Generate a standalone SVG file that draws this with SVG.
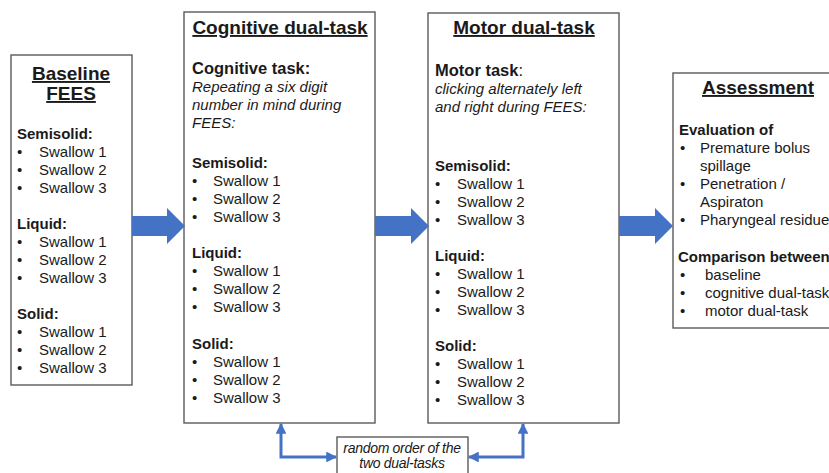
<svg xmlns="http://www.w3.org/2000/svg" width="829" height="473" viewBox="0 0 829 473">
<defs>
<style>
text{font-family:"Liberation Sans",Arial,sans-serif;fill:#1a1a1a}
.box{fill:#fff;stroke:#5a5a5a;stroke-width:1.4}
.title{font-size:19px;font-weight:bold;text-decoration:underline;text-anchor:middle}
.h{font-size:15px;font-weight:bold}
.h2{font-size:16.5px;font-weight:bold}
.t{font-size:15px}
.i{font-size:15px;font-style:italic}
.note{font-size:14px;font-style:italic;text-anchor:middle;letter-spacing:-0.3px}
.big{fill:#4472c4}
.con{fill:none;stroke:#4472c4;stroke-width:3}
</style>
<marker id="ah" viewBox="0 0 10 10" refX="9" refY="5" markerWidth="3.6" markerHeight="3.6" orient="auto-start-reverse" markerUnits="strokeWidth">
<path d="M0,0 L10,5 L0,10 z" fill="#4472c4"/>
</marker>
</defs>
<rect width="829" height="473" fill="#fff"/>

<g id="baseline">
<rect class="box" x="11" y="55" width="121" height="330"/>
<text class="title" x="71" y="80">Baseline</text>
<text class="title" x="71" y="100">FEES</text>
<text class="h" x="17" y="139">Semisolid:</text>
<text class="t" x="17" y="157">•</text><text class="t" x="39" y="157">Swallow 1</text>
<text class="t" x="17" y="175">•</text><text class="t" x="39" y="175">Swallow 2</text>
<text class="t" x="17" y="193">•</text><text class="t" x="39" y="193">Swallow 3</text>
<text class="h" x="17" y="229">Liquid:</text>
<text class="t" x="17" y="247">•</text><text class="t" x="39" y="247">Swallow 1</text>
<text class="t" x="17" y="265">•</text><text class="t" x="39" y="265">Swallow 2</text>
<text class="t" x="17" y="283">•</text><text class="t" x="39" y="283">Swallow 3</text>
<text class="h" x="17" y="319">Solid:</text>
<text class="t" x="17" y="337">•</text><text class="t" x="39" y="337">Swallow 1</text>
<text class="t" x="17" y="355">•</text><text class="t" x="39" y="355">Swallow 2</text>
<text class="t" x="17" y="373">•</text><text class="t" x="39" y="373">Swallow 3</text>
</g>

<g id="cognitive">
<rect class="box" x="184" y="12" width="191" height="411"/>
<text class="title" x="280" y="34">Cognitive dual-task</text>
<text class="h2" x="192" y="74">Cognitive task:</text>
<text class="i" x="192" y="92">Repeating a six digit</text>
<text class="i" x="192" y="110">number in mind during</text>
<text class="i" x="192" y="128">FEES:</text>
<text class="h" x="192" y="168">Semisolid:</text>
<text class="t" x="192" y="186">•</text><text class="t" x="213" y="186">Swallow 1</text>
<text class="t" x="192" y="204">•</text><text class="t" x="213" y="204">Swallow 2</text>
<text class="t" x="192" y="222">•</text><text class="t" x="213" y="222">Swallow 3</text>
<text class="h" x="192" y="258">Liquid:</text>
<text class="t" x="192" y="276">•</text><text class="t" x="213" y="276">Swallow 1</text>
<text class="t" x="192" y="294">•</text><text class="t" x="213" y="294">Swallow 2</text>
<text class="t" x="192" y="312">•</text><text class="t" x="213" y="312">Swallow 3</text>
<text class="h" x="192" y="349">Solid:</text>
<text class="t" x="192" y="367">•</text><text class="t" x="213" y="367">Swallow 1</text>
<text class="t" x="192" y="385">•</text><text class="t" x="213" y="385">Swallow 2</text>
<text class="t" x="192" y="403">•</text><text class="t" x="213" y="403">Swallow 3</text>
</g>

<g id="motor">
<rect class="box" x="428" y="13" width="191" height="410"/>
<text class="title" x="524" y="34">Motor dual-task</text>
<text class="h2" x="435" y="76">Motor task<tspan font-weight="normal">:</tspan></text>
<text class="i" x="435" y="94">clicking alternately left</text>
<text class="i" x="435" y="112">and right during FEES:</text>
<text class="h" x="435" y="171">Semisolid:</text>
<text class="t" x="435" y="189">•</text><text class="t" x="457" y="189">Swallow 1</text>
<text class="t" x="435" y="207">•</text><text class="t" x="457" y="207">Swallow 2</text>
<text class="t" x="435" y="225">•</text><text class="t" x="457" y="225">Swallow 3</text>
<text class="h" x="435" y="261">Liquid:</text>
<text class="t" x="435" y="279">•</text><text class="t" x="457" y="279">Swallow 1</text>
<text class="t" x="435" y="297">•</text><text class="t" x="457" y="297">Swallow 2</text>
<text class="t" x="435" y="315">•</text><text class="t" x="457" y="315">Swallow 3</text>
<text class="h" x="435" y="351">Solid:</text>
<text class="t" x="435" y="369">•</text><text class="t" x="457" y="369">Swallow 1</text>
<text class="t" x="435" y="387">•</text><text class="t" x="457" y="387">Swallow 2</text>
<text class="t" x="435" y="405">•</text><text class="t" x="457" y="405">Swallow 3</text>
</g>

<g id="assessment">
<rect class="box" x="673" y="73" width="170" height="255"/>
<text class="title" x="758" y="94">Assessment</text>
<text class="h" x="679" y="135">Evaluation of</text>
<text class="t" x="680" y="153">•</text><text class="t" x="700" y="153">Premature bolus</text>
<text class="t" x="700" y="171">spillage</text>
<text class="t" x="680" y="189">•</text><text class="t" x="700" y="189">Penetration /</text>
<text class="t" x="700" y="207">Aspiraton</text>
<text class="t" x="680" y="225">•</text><text class="t" x="700" y="225" font-size="14.5">Pharyngeal residue</text>
<text class="h" x="678" y="262" font-size="14.1">Comparison between</text>
<text class="t" x="680" y="280">•</text><text class="t" x="705" y="280">baseline</text>
<text class="t" x="680" y="298">•</text><text class="t" x="705" y="298">cognitive dual-task</text>
<text class="t" x="680" y="316">•</text><text class="t" x="705" y="316">motor dual-task</text>
</g>

<g id="order-note">
<rect class="box" x="337" y="437" width="131" height="40"/>
<text class="note" x="402" y="453">random order of the</text>
<text class="note" x="402" y="468">two dual-tasks</text>
</g>

<g id="connectors">
<path class="big" d="M132,216 H167 V208 L185,226 L167,244 V236 H132 Z"/>
<path class="big" d="M375,216 H411 V208 L429,226 L411,244 V236 H375 Z"/>
<path class="big" d="M619,216 H655 V208 L673,226 L655,244 V236 H619 Z"/>
<path class="con" d="M281,424 V457 H336" marker-start="url(#ah)" marker-end="url(#ah)"/>
<path class="con" d="M523,424 V457 H469" marker-start="url(#ah)" marker-end="url(#ah)"/>
</g>
</svg>
